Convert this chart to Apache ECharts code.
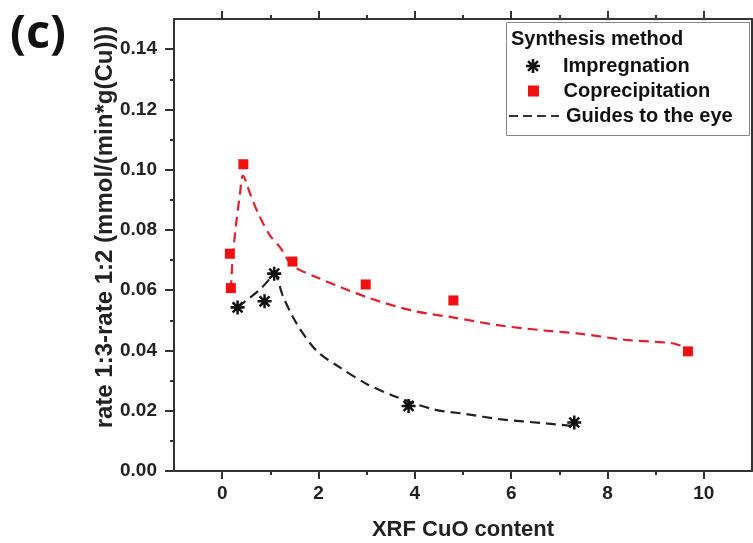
<!DOCTYPE html>
<html>
<head>
<meta charset="utf-8">
<style>
  html, body { margin: 0; padding: 0; background: #fff; }
  #chart { width: 753px; height: 543px; }
</style>
<script src="https://cdn.jsdelivr.net/npm/echarts@6/dist/echarts.min.js"></script>
</head>
<body>
<div id="chart"></div>
<script>
// measured points (x = XRF CuO content, y = rate difference)
const imprX = [0.32, 0.88, 1.08, 3.87, 7.31];
const imprY = [0.0543, 0.0563, 0.0655, 0.0216, 0.0161];
const coprX = [0.16, 0.18, 0.44, 1.46, 2.98, 4.80, 9.67];
const coprY = [0.0721, 0.0607, 0.1018, 0.0695, 0.0619, 0.0566, 0.0397];

// dashed guide curves
const redGuideX = [0.18, 0.22, 0.29, 0.37, 0.43, 0.58, 0.75, 0.99, 1.20, 1.46, 1.96, 3.0, 3.95, 4.78, 5.76, 6.72, 7.41, 8.38, 9.34, 9.62];
const redGuideY = [0.060, 0.071, 0.082, 0.092, 0.098, 0.092, 0.0854, 0.0782, 0.0743, 0.0682, 0.0643, 0.0577, 0.0532, 0.0510, 0.0483, 0.0466, 0.0456, 0.0435, 0.0424, 0.0410];
const blackGuideX = [0.32, 0.55, 0.80, 1.0, 1.08, 1.27, 1.55, 1.96, 2.44, 3.0, 3.55, 4.38, 5.07, 5.76, 6.72, 7.25];
const blackGuideY = [0.0543, 0.0572, 0.0605, 0.064, 0.0655, 0.0577, 0.0488, 0.0399, 0.0344, 0.0289, 0.0250, 0.0205, 0.0189, 0.0172, 0.0158, 0.0150];

const xRange = [-1, 11];
const yRange = [0, 0.15];
const xTickRange = [0, 10];
const yTickRange = [0, 0.14];

const zip = (xs, ys) => xs.map((x, i) => [x, ys[i]]);

// asterisk marker: 8 flat-ended arms as one outline
function starPath(r, w) {
  const inner = w / Math.sin(Math.PI / 8);
  let pts = [];
  for (let k = 0; k < 8; k++) {
    const a = k * Math.PI / 4;
    const c = Math.cos(a), s = Math.sin(a);
    pts.push([r * c + w * s, r * s - w * c]);
    pts.push([r * c - w * s, r * s + w * c]);
    const b = a + Math.PI / 8;
    pts.push([inner * Math.cos(b), inner * Math.sin(b)]);
  }
  return 'path://' + pts.map((p, i) => (i ? 'L' : 'M') + p[0].toFixed(2) + ',' + p[1].toFixed(2)).join('') + 'Z';
}
const STAR = starPath(10, 1.8);
const SQUARE = 'path://M0,0L1,0L1,1L0,1Z';

const FONT = 'Liberation Sans';
const AXIS_COLOR = '#333';

// plot frame
const GL = 174, GT = 19, GR = 1, GB = 72;
const plotW = 753 - GL - GR;
const plotH = 543 - GT - GB;
const pxPerX = plotW / (xRange[1] - xRange[0]);
const pxPerY = plotH / (yRange[1] - yRange[0]);
const padL = (xTickRange[0] - xRange[0]) * pxPerX;
const padR = (xRange[1] - xTickRange[1]) * pxPerX;
const padT = (yRange[1] - yTickRange[1]) * pxPerY;

let chart = echarts.init(document.getElementById('chart'), null, { renderer: 'canvas' });

const lineAxis = (extra) => Object.assign({
  type: 'value',
  axisLine: { show: true, onZero: false, lineStyle: { color: AXIS_COLOR, width: 2 } },
  axisTick: { show: false },
  axisLabel: { show: false },
  splitLine: { show: false }
}, extra);

const tickLabel = { fontFamily: FONT, fontWeight: 'bold', fontSize: 19, color: '#222' };
const tickLine = { color: AXIS_COLOR, width: 2 };
const legendText = { fontFamily: FONT, fontWeight: 'bold', fontSize: 20, color: '#111' };

let option = {
  animation: false,
  backgroundColor: '#fff',
  grid: [
    { left: GL, top: GT, right: GR, bottom: GB, outerBoundsMode: 'none' },
    { left: GL + padL, top: GT + padT, right: GR + padR, bottom: GB, outerBoundsMode: 'none' }
  ],
  xAxis: [
    lineAxis({
      gridIndex: 0, min: xRange[0], max: xRange[1], position: 'bottom',
      name: 'XRF CuO content', nameLocation: 'middle', nameGap: 48,
      nameTextStyle: { fontFamily: FONT, fontWeight: 'bold', fontSize: 22, color: '#222' }
    }),
    lineAxis({ gridIndex: 0, min: xRange[0], max: xRange[1], position: 'top' }),
    {
      type: 'value', gridIndex: 1, min: xTickRange[0], max: xTickRange[1], interval: 2,
      position: 'bottom',
      axisLine: { show: false, onZero: false },
      axisTick: { show: true, length: 8, lineStyle: tickLine },
      minorTick: { show: true, splitNumber: 2, length: 4, lineStyle: tickLine },
      axisLabel: Object.assign({ margin: 13 }, tickLabel),
      splitLine: { show: false }
    },
    {
      type: 'value', gridIndex: 1, min: xTickRange[0], max: xTickRange[1], interval: 2,
      position: 'top', offset: padT,
      axisLine: { show: false, onZero: false },
      axisTick: { show: true, length: 8, lineStyle: tickLine },
      minorTick: { show: true, splitNumber: 2, length: 4, lineStyle: tickLine },
      axisLabel: { show: false },
      splitLine: { show: false }
    }
  ],
  yAxis: [
    lineAxis({
      gridIndex: 0, min: yRange[0], max: yRange[1], position: 'left',
      name: 'rate 1:3-rate 1:2 (mmol/(min*g(Cu)))', nameLocation: 'middle', nameGap: 57,
      nameTextStyle: { fontFamily: FONT, fontWeight: 'bold', fontSize: 24, color: '#222', padding: [0, 0, 0, 36] }
    }),
    lineAxis({ gridIndex: 0, min: yRange[0], max: yRange[1], position: 'right' }),
    {
      type: 'value', gridIndex: 1, min: yTickRange[0], max: yTickRange[1], interval: 0.02,
      position: 'left', offset: padL,
      axisLine: { show: false, onZero: false },
      axisTick: { show: true, length: 9, lineStyle: tickLine },
      minorTick: { show: true, splitNumber: 2, length: 4, lineStyle: tickLine },
      axisLabel: Object.assign({ margin: 17, formatter: (v) => v.toFixed(2) }, tickLabel),
      splitLine: { show: false }
    }
  ],
  legend: [
    {
      data: [{ name: 'Impregnation', icon: STAR }],
      left: 526, top: 56, padding: 0, itemWidth: 50, itemHeight: 14,
      selectedMode: false, textStyle: legendText
    },
    {
      data: [{ name: 'Coprecipitation', icon: SQUARE }],
      left: 528, top: 81, padding: 0, itemWidth: 50, itemHeight: 11,
      selectedMode: false, textStyle: legendText
    },
    {
      data: ['Guides to the eye'],
      left: 508, top: 106, padding: 0, itemWidth: 50, itemHeight: 14,
      selectedMode: false,
      itemStyle: { opacity: 0 },
      lineStyle: { color: '#333', width: 2, type: [9, 5], opacity: 1 },
      textStyle: Object.assign({ padding: [0, 0, 0, 2] }, legendText)
    }
  ],
  graphic: [
    {
      type: 'rect', left: 506, top: 22,
      shape: { width: 243, height: 113 },
      style: { fill: '#fff', stroke: '#888', lineWidth: 1 },
      z: -1
    },
    {
      type: 'text', left: 511, top: 29,
      style: { text: 'Synthesis method', font: 'bold 20px "Liberation Sans"', fill: '#111' }
    },
    {
      type: 'text', left: 10, top: 11,
      style: { text: '(c)', font: 'bold 47px "Open Sans"', fill: '#111' }
    }
  ],
  series: [
    {
      name: 'redGuide', type: 'line', xAxisIndex: 0, yAxisIndex: 0,
      data: zip(redGuideX, redGuideY), smooth: 0.3, symbol: 'none',
      lineStyle: { color: '#e0202e', width: 2.2, type: [10, 6] }, z: 2
    },
    {
      name: 'blackGuide', type: 'line', xAxisIndex: 0, yAxisIndex: 0,
      data: zip(blackGuideX, blackGuideY), smooth: 0.3, symbol: 'none',
      lineStyle: { color: '#222', width: 2.2, type: [10, 6] }, z: 2
    },
    {
      name: 'Guides to the eye', type: 'line', xAxisIndex: 0, yAxisIndex: 0,
      data: [], symbol: 'none',
      lineStyle: { color: '#333', width: 2, type: [9, 5] }
    },
    {
      name: 'Coprecipitation', type: 'scatter', xAxisIndex: 0, yAxisIndex: 0,
      data: zip(coprX, coprY), symbol: 'rect', symbolSize: 10,
      itemStyle: { color: '#f01010', opacity: 1 }, z: 3
    },
    {
      name: 'Impregnation', type: 'scatter', xAxisIndex: 0, yAxisIndex: 0,
      data: zip(imprX, imprY), symbol: STAR, symbolSize: 14,
      itemStyle: { color: '#111', opacity: 1 }, z: 4
    }
  ]
};

chart.setOption(option);
window.addEventListener('resize', chart.resize);
</script>
</body>
</html>
